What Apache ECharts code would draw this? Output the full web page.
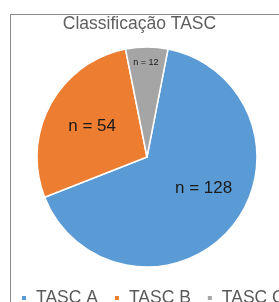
<!DOCTYPE html>
<html>
<head>
<meta charset="utf-8">
<script src="https://cdn.jsdelivr.net/npm/echarts@6/dist/echarts.min.js"></script>
<style>
  html, body { margin: 0; padding: 0; background: #fff; }
  #frame { position: absolute; left: 10px; top: 14px; width: 400px; height: 400px;
           border-left: 1px solid #8a8a8a; border-top: 1px solid #8a8a8a; }
  #chart { position: absolute; left: 0; top: 0; width: 279px; height: 302px; }
</style>
</head>
<body>
<div id="frame"></div>
<div id="chart"></div>
<script>
// 数据：TASC 分类计数
const categories = ['TASC A', 'TASC B', 'TASC C'];
const counts = [128, 54, 12];
const colors = ['#5B9BD5', '#ED7D31', '#A5A5A5'];

const FONT = '"Liberation Sans", Arial, sans-serif';

function render() {
  const chart = echarts.init(document.getElementById('chart'), null, { renderer: 'canvas' });
  // 每块标签的微调位置（模仿原图的标签摆放）
  const labelTweaks = [
    { offset: [12, -6], fontSize: 17 },
    { offset: [-4, -3], fontSize: 17 },
    { offset: [-1, -36], fontSize: 9 }
  ];
  const data = categories.map((name, i) => ({
    name: name,
    value: counts[i],
    itemStyle: { color: colors[i] },
    label: labelTweaks[i]
  }));

  chart.setOption({
    backgroundColor: 'transparent',
    animation: false,
    title: {
      text: 'Classificação TASC',
      left: 'center',
      top: 15,
      padding: 0,
      textStyle: { color: '#5f5f5f', fontSize: 17.5, fontWeight: 'normal', fontFamily: FONT }
    },
    legend: {
      data: categories,
      left: 20,
      top: 289,
      width: 500,
      padding: 0,
      icon: 'rect',
      itemWidth: 6,
      itemHeight: 6,
      itemGap: 15,
      textStyle: { color: '#595959', fontSize: 17.5, fontFamily: FONT, padding: [0, 0, 0, 4] }
    },
    series: [{
      type: 'pie',
      center: [147, 157],
      radius: [0, 110],
      startAngle: 79,
      clockwise: true,
      data: data,
      itemStyle: { borderColor: '#fff', borderWidth: 1.5 },
      label: {
        show: true,
        position: 'inside',
        formatter: (p) => `n = ${p.value}`,
        color: '#1a1a1a',
        fontFamily: FONT
      },
      labelLine: { show: false },
      emphasis: { disabled: true }
    }]
  });
}

render();
</script>
</body>
</html>
